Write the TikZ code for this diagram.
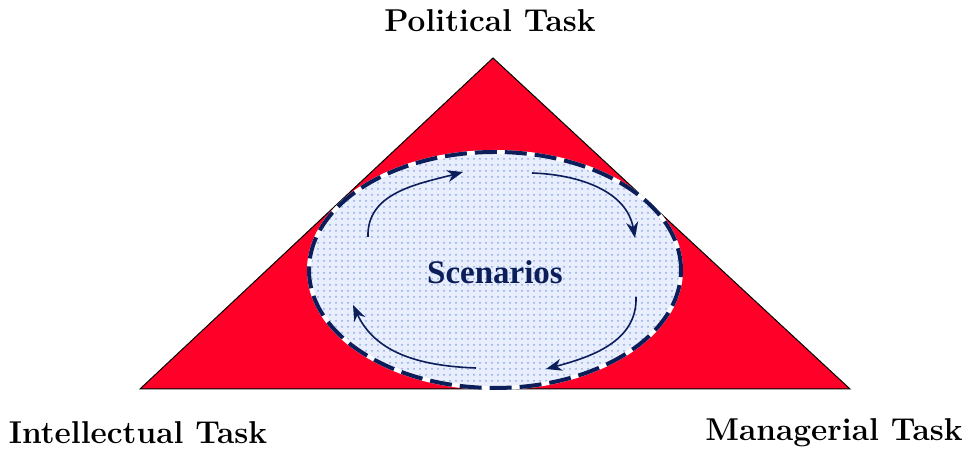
\documentclass[tikz,border=0pt]{standalone}
\usepackage{fontspec}
\usetikzlibrary{arrows.meta,patterns}
\newfontfamily\scenfont{Liberation Serif}
\definecolor{taskred}{RGB}{255,0,40}
\definecolor{navy}{RGB}{12,30,90}
\definecolor{paleblue}{RGB}{232,238,252}
\definecolor{dotblue}{RGB}{140,168,235}

\begin{document}
\begin{tikzpicture}[
    x=0.5pt, y=0.5pt,
    task/.style={font=\fontsize{15.8}{19}\selectfont\bfseries, inner sep=0pt},
    cycle/.style={navy, line width=0.8pt, -{Stealth[length=8pt,width=6pt]}}
]
\useasboundingbox (0,0) rectangle (966,453);

% Triangle
\coordinate (top) at (493,395);
\coordinate (left) at (140,64);
\coordinate (right) at (850,64);
\filldraw[fill=taskred, draw=black, line width=0.5pt] (left) -- (top) -- (right) -- cycle;

% Scenarios
\coordinate (mid) at (495,183);
\fill[paleblue] (mid) ellipse [x radius=93pt, y radius=59pt];
\fill[pattern=dots, pattern color=dotblue] (mid) ellipse [x radius=93pt, y radius=59pt];
\draw[white, line width=2pt] (mid) ellipse [x radius=93pt, y radius=59pt];
\draw[navy, line width=2pt, dash pattern=on 11pt off 4pt] (mid) ellipse [x radius=93pt, y radius=59pt];
\node[font=\scenfont\fontsize{16.5}{20}\selectfont\bfseries, text=navy] (scen) at (495,181) {Scenarios};

% Cycle arrows
\coordinate (c1) at (368,216);
\coordinate (c2) at (463,281);
\coordinate (c3) at (532,280);
\coordinate (c4) at (635,215);
\coordinate (c5) at (636,156);
\coordinate (c6) at (546,84);
\coordinate (c7) at (476,85);
\coordinate (c8) at (353,148);
\draw[cycle] (c1) to[out=92, in=195] (c2);
\draw[cycle] (c3) to[out=-2, in=100] (c4);
\draw[cycle] (c5) to[out=-88, in=15] (c6);
\draw[cycle] (c7) to[out=178, in=-65] (c8);

% Tasks
\node[task] (pol) at (490,432) {Political Task};
\node[task] (int) at (138,20) {Intellectual Task};
\node[task] (man) at (834,20) {Managerial Task};

\end{tikzpicture}
\end{document}
